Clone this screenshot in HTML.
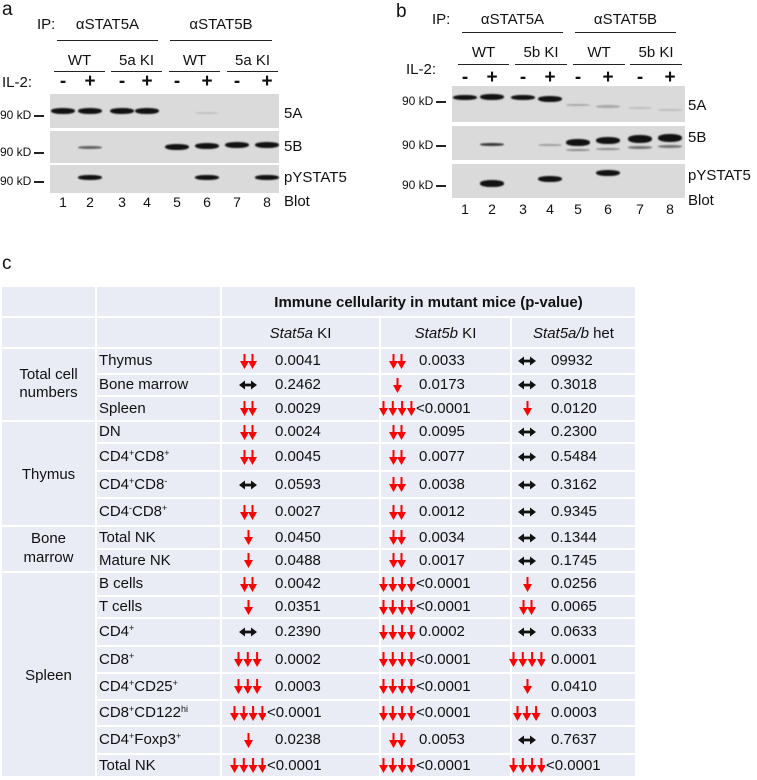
<!DOCTYPE html>
<html><head><meta charset="utf-8">
<style>
body{margin:0;background:#fff;}
#root{position:relative;width:757px;height:780px;overflow:hidden;font-family:"Liberation Sans",Arial,sans-serif;color:#111;}
.t{position:absolute;white-space:nowrap;line-height:1;}
.ln{position:absolute;height:1.3px;background:#222;}
.blot{position:absolute;background:#dadada;}
.band{position:absolute;background:#111;border-radius:45%;filter:blur(0.7px);}
.cell{position:absolute;background:#e9ebf5;box-sizing:border-box;font-size:15px;}
.tc{position:absolute;white-space:nowrap;line-height:1;font-size:15px;}
.tc svg{display:block;margin:0 auto;}
sup{font-size:9px;vertical-align:5px;line-height:0;}
</style></head><body>
<div id="root">
<div id="pa"></div>
<div id="pb"></div>
<div class="t" style="left:2px;top:254px;font-size:19px;">c</div>
<div id="tbl"></div>
</div>
<script>
const root=document.getElementById('root');
function add(parent,cls,style,html,name){
  const d=document.createElement('div');d.className=cls;d.style.cssText=style;if(html!==undefined)d.innerHTML=html;
  
  
  parent.appendChild(d);return d;
}
// ---------- blots ----------
const laneSigns=['-','+','-','+','-','+','-','+'];
const laneNums=['1','2','3','4','5','6','7','8'];
function panel(p,o){
  const P=document.getElementById(p);
  add(P,'t',`left:${o.lx}px;top:${o.ly}px;font-size:19px;`,o.letter,'panel-letter');
  add(P,'t',`left:${o.ipx}px;top:${o.ipy}px;font-size:15px;`,'IP:','ip-label');
  o.ip.forEach((g,i)=>{
    add(P,'t',`left:${g.x0}px;width:${g.x1-g.x0}px;text-align:center;top:${o.ipy}px;font-size:15px;`,g.t,'ip-antibody');
    add(P,'ln',`left:${g.x0}px;width:${g.x1-g.x0}px;top:${o.ipl}px;`,undefined,'ip-bracket');
  });
  o.gt.forEach(g=>{
    add(P,'t',`left:${g.x0}px;width:${g.x1-g.x0}px;text-align:center;top:${o.gty}px;font-size:15px;`,g.t,'genotype-label');
    add(P,'ln',`left:${g.x0}px;width:${g.x1-g.x0}px;top:${o.gtl}px;`,undefined,'genotype-bracket');
  });
  add(P,'t',`left:${o.ilx}px;top:${o.ily}px;font-size:15px;`,'IL-2:','il2-label');
  o.lanes.forEach((x,i)=>{
    add(P,'t',`left:${x-8}px;width:16px;text-align:center;top:${o.sy}px;font-size:19px;font-weight:bold;`,laneSigns[i],'il2-sign');
    add(P,'t',`left:${x-8}px;width:16px;text-align:center;top:${o.ny}px;font-size:14px;`,laneNums[i],'lane-number');
  });
  o.blots.forEach(b=>{
    add(P,'blot',`left:${o.bx0}px;width:${o.bx1-o.bx0}px;top:${b.y0}px;height:${b.y1-b.y0}px;`,undefined,'blot-'+b.lab);
    b.bands.forEach(bd=>{
      const x=o.lanes[bd[0]];
      add(P,'band',`left:${x-12}px;width:24px;top:${bd[1]-bd[2]/2}px;height:${bd[2]}px;opacity:${bd[3]};`,undefined,'band');
    });
    add(P,'t',`left:${o.mx}px;top:${b.my-6}px;font-size:12px;`,'90 kD',  'marker-label');
    add(P,'ln',`left:${o.mx+34}px;width:10px;top:${b.my}px;height:2px;`,undefined,'marker-tick');
    add(P,'t',`left:${o.rx}px;top:${b.ry}px;font-size:15px;`,b.lab,'blot-label');
  });
  add(P,'t',`left:${o.rx}px;top:${o.by}px;font-size:15px;`,'Blot','blot-caption');
}
panel('pa',{letter:'a',lx:2,ly:0,ipx:37,ipy:17,
 ip:[{t:'αSTAT5A',x0:57,x1:158},{t:'αSTAT5B',x0:170,x1:272}],ipl:40,
 gt:[{t:'WT',x0:54,x1:105},{t:'5a KI',x0:111,x1:162},{t:'WT',x0:169,x1:220},{t:'5a KI',x0:227,x1:278}],gty:53,gtl:71,
 ilx:2,ily:75,sy:72,ny:195,lanes:[63,90,122,147,177,207,237,267],bx0:50,bx1:279,mx:0,rx:284,by:194,
 blots:[{lab:'5A',y0:94,y1:128,my:115,ry:106,bands:[[0,111,6,1],[1,111,6,1],[2,111,6,1],[3,111,6,1],[5,113,2,.12]]},
        {lab:'5B',y0:131,y1:163,my:152,ry:139,bands:[[1,147,3,.6],[4,147,6,1],[5,146,6,1],[6,145,6,1],[7,145,6,1]]},
        {lab:'pYSTAT5',y0:165,y1:193,my:181,ry:170,bands:[[1,177,5,1],[5,177,5,1],[7,177,5,1]]}]});
panel('pb',{letter:'b',lx:396,ly:2,ipx:432,ipy:12,
 ip:[{t:'αSTAT5A',x0:462,x1:563},{t:'αSTAT5B',x0:575,x1:676}],ipl:32,
 gt:[{t:'WT',x0:458,x1:509},{t:'5b KI',x0:515,x1:567},{t:'WT',x0:573,x1:625},{t:'5b KI',x0:630,x1:682}],gty:45,gtl:64,
 ilx:406,ily:62,sy:68,ny:202,lanes:[465,492,523,550,578,608,640,670],bx0:452,bx1:685,mx:402,rx:688,by:193,
 blots:[{lab:'5A',y0:86,y1:122,my:101,ry:98,bands:[[0,97,5,1],[1,97,6,1],[2,97,5,1],[3,99,6,1],[4,105,2,.25],[5,106,3,.25],[6,108,2,.15],[7,110,2,.15]]},
        {lab:'5B',y0:126,y1:160,my:145,ry:130,bands:[[1,144,3,.8],[3,145,2,.3],[4,142,7,1],[5,140,7,1],[6,139,8,1],[7,138,8,1],[4,150,2,.4],[5,149,2,.4],[6,147,3,.5],[7,146,3,.5]]},
        {lab:'pYSTAT5',y0:164,y1:198,my:185,ry:168,bands:[[1,183,7,1],[3,179,6,1],[5,173,6,1]]}]});

// ---------- table ----------
const groups=['Total cell numbers','Thymus','Bone marrow','Spleen'];
const groupRowCounts=[3,4,2,8];
const rowLabels=['Thymus','Bone marrow','Spleen','DN','CD4<sup>+</sup>CD8<sup>+</sup>','CD4<sup>+</sup>CD8<sup>-</sup>','CD4<sup>-</sup>CD8<sup>+</sup>','Total NK','Mature NK','B cells','T cells','CD4<sup>+</sup>','CD8<sup>+</sup>','CD4<sup>+</sup>CD25<sup>+</sup>','CD8<sup>+</sup>CD122<sup>hi</sup>','CD4<sup>+</sup>Foxp3<sup>+</sup>','Total NK'];
const colHeaders=['<i>Stat5a</i> KI','<i>Stat5b</i> KI','<i>Stat5a/b</i> het'];
// arrow codes: 0 = no change (↔), n = n down arrows
const stat5aArrows=[2,0,2,2,2,0,2,1,1,2,1,0,3,3,4,1,4];
const stat5aP=['0.0041','0.2462','0.0029','0.0024','0.0045','0.0593','0.0027','0.0450','0.0488','0.0042','0.0351','0.2390','0.0002','0.0003','<0.0001','0.0238','<0.0001'];
const stat5bArrows=[2,1,4,2,2,2,2,2,2,4,4,4,4,4,4,2,4];
const stat5bP=['0.0033','0.0173','<0.0001','0.0095','0.0077','0.0038','0.0012','0.0034','0.0017','<0.0001','<0.0001','0.0002','<0.0001','<0.0001','<0.0001','0.0053','<0.0001'];
const hetArrows=[0,0,1,0,0,0,0,0,0,1,2,0,4,1,3,0,4];
const hetP=['09932','0.3018','0.0120','0.2300','0.5484','0.3162','0.9345','0.1344','0.1745','0.0256','0.0065','0.0633','0.0001','0.0410','0.0003','0.7637','<0.0001'];

const T=document.getElementById('tbl');
const colX=[2,97,222,381,512,637];
const rowY=[349,375,397,422,444,472,499,527,550,573,597,619,647,674,701,727,755,778];
const G=2;
function cell(x0,x1,y0,y1,html,name,align){
  const c=add(T,'cell',`left:${x0}px;top:${y0}px;width:${x1-x0-G}px;height:${y1-y0-G}px;`,undefined,name);
  if(html!==undefined){
    const h=y1-y0-G;
    if(align==='left'){
      add(c,'tc',`left:2px;top:${h/2-8}px;`,html,name+'-text');
    } else {
      const two=html.includes('<br>');
      const t=add(c,'tc',`left:0;width:100%;text-align:center;white-space:normal;line-height:1.25;top:${h/2-(two?19:8)}px;`,html,name+'-text');
    }
  }
  return c;
}
cell(colX[0],colX[1],287,318,undefined,'header-empty');
cell(colX[1],colX[2],287,318,undefined,'header-empty');
cell(colX[2],colX[5],287,318,'<b>Immune cellularity in mutant mice (p-value)</b>','table-title');
cell(colX[0],colX[1],318,349,undefined,'header-empty');
cell(colX[1],colX[2],318,349,undefined,'header-empty');
colHeaders.forEach((h,i)=>cell(colX[2+i],colX[3+i],318,349,h,'column-header'));
let r=0;
const groupHtml=['Total cell<br>numbers','Thymus','Bone<br>marrow','Spleen'];
groups.forEach((g,i)=>{
  cell(colX[0],colX[1],rowY[r],rowY[r+groupRowCounts[i]],groupHtml[i],'group-label');
  r+=groupRowCounts[i];
});
function arrowSvg(n){
  if(n===0){
    return `<svg width="18" height="10" viewBox="0 0 18 10"><path d="M0 5 L6 0.5 L6 3.6 L12 3.6 L12 0.5 L18 5 L12 9.5 L12 6.4 L6 6.4 L6 9.5 Z" fill="#111"/></svg>`;
  }
  const sp=n===2?8:9.3, w=(n-1)*sp+9;
  let s=`<svg width="${w}" height="15" viewBox="0 0 ${w} 15">`;
  for(let k=0;k<n;k++){const cx=4.5+k*sp;s+=`<path d="M${cx-1} 0 L${cx+1} 0 L${cx+1} 7 L${cx+4.5} 7 L${cx} 15 L${cx-4.5} 7 L${cx-1} 7 Z" fill="#f00"/>`;}
  return s+'</svg>';
}
const arrCols=[stat5aArrows,stat5bArrows,hetArrows];
const pCols=[stat5aP,stat5bP,hetP];
const arrCenter=[248,397,527];
const valX=[275,419,551];
for(let i=0;i<rowLabels.length;i++){
  const y0=rowY[i],y1=rowY[i+1],cy=(y0+y1-G)/2;
  cell(colX[1],colX[2],y0,y1,rowLabels[i],'row-label','left');
  for(let c=0;c<3;c++){
    cell(colX[2+c],colX[3+c],y0,y1,undefined,'pvalue-cell');
    const n=arrCols[c][i];
    add(T,'tc',`left:${arrCenter[c]-40}px;width:80px;top:${cy-(n===0?5:7.5)}px;`,arrowSvg(n),n===0?'no-change-arrow':'decrease-arrows');
    const v=pCols[c][i];
    const lt=v.startsWith('<')?(n===4?arrCenter[c]+19:valX[c]-9):valX[c];
    add(T,'tc',`left:${lt}px;top:${cy-8}px;`,v.replace('<','&lt;'),'p-value');
  }
}
</script>
</body></html>
